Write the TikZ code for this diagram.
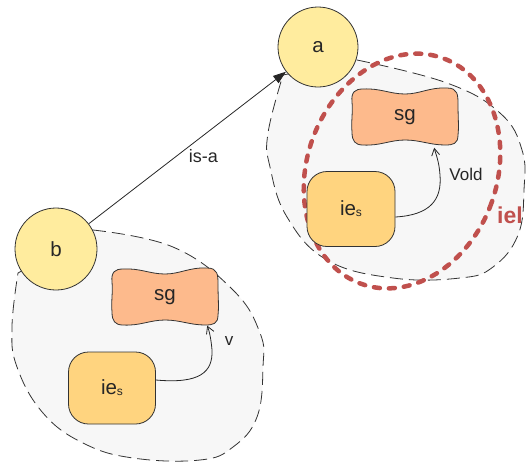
\documentclass[tikz,border=0pt]{standalone}
\usepackage{fontspec}
\setmainfont{Liberation Sans}
\usetikzlibrary{arrows.meta,calc}
\definecolor{circfill}{HTML}{FFEC9E}
\definecolor{iefill}{HTML}{FFD47F}
\definecolor{sgfill}{HTML}{FDBA8C}
\definecolor{blobfill}{HTML}{F7F7F7}
\definecolor{ielred}{HTML}{C0504D}
\definecolor{edgegray}{HTML}{333333}
\tikzset{
  lbl/.style={font=\fontsize{20.5}{22}\selectfont, text=black!85},
  circ/.style={circle, draw=edgegray, line width=0.8pt, fill=circfill, inner sep=0pt, lbl},
  iebox/.style={rectangle, rounded corners=20pt, draw=edgegray, line width=0.8pt, fill=iefill, lbl},
  sgshape/.style={draw=edgegray, line width=0.8pt, fill=sgfill},
  sgtext/.style={lbl, minimum width=106pt, minimum height=57pt},
  blob/.style={draw=black!80, line width=0.8pt, dash pattern=on 13pt off 6pt, fill=blobfill},
  redring/.style={draw=ielred, line width=4.5pt, line cap=round, dash pattern=on 6pt off 9pt},
  conn/.style={draw=black!85, line width=0.8pt, -{Straight Barb[length=7pt,width=8pt]}},
  isa/.style={draw=black!85, line width=0.8pt, -{Triangle[length=13pt,width=9pt]}},
  small lbl/.style={font=\fontsize{17}{19}\selectfont, text=black!85},
}
\newcommand{\sgpath}{(-42,-28) .. controls (-25,-29) and (-15,-23) .. (0,-23)
  .. controls (15,-23) and (25,-30) .. (42,-29)
  .. controls (53,-29) and (53,-22) .. (53,-12)
  .. controls (53,0) and (54,10) .. (53,18)
  .. controls (53,27) and (48,28) .. (40,28)
  .. controls (25,28) and (15,23) .. (0,23)
  .. controls (-15,23) and (-25,29) .. (-42,28)
  .. controls (-50,28) and (-53,24) .. (-53,15)
  .. controls (-54,5) and (-52,-5) .. (-53,-15)
  .. controls (-54,-25) and (-50,-28) .. (-42,-28) -- cycle}
\begin{document}
\begin{tikzpicture}[x=1pt,y=-1pt]
\useasboundingbox (0,0) rectangle (526,464);
% left blob
\path[blob] plot[smooth, tension=0.7] coordinates {(93,230) (173,247) (233,290) (260,333) (263,367) (257,417) (233,447) (200,460) (133,458) (83,443) (43,413) (17,367) (12,327) (18,273)} -- cycle;
% right blob
\path[blob] plot[smooth, tension=0.7] coordinates {(357,60) (447,83) (500,113) (522,150) (524,190) (518,235) (493,267) (460,278) (393,278) (327,260) (287,217) (270,167) (268,133) (283,75)} -- cycle;
% red ring
\path[redring, rotate around={-20:(402,171)}] (402,171) ellipse [x radius=95, y radius=120];
% circles
\node[circ, minimum size=80pt] (a) at (318,47) {a};
\node[circ, minimum size=82pt] (b) at (56,249) {b};
% sg shapes
\path[sgshape, shift={(165,297)}] \sgpath;
\node[sgtext] (sgL) at (165,297) {sg};
\path[sgshape, shift={(405,117)}] \sgpath;
\node[sgtext] (sgR) at (405,117) {sg};
% ie boxes
\node[iebox, minimum width=87pt, minimum height=72pt] (ieL) at (112,388) {ie\raisebox{-1pt}{\fontsize{12}{13}\selectfont s}};
\node[iebox, minimum width=88pt, minimum height=75pt] (ieR) at (351,209) {ie\raisebox{-1pt}{\fontsize{12}{13}\selectfont s}};
% connectors
\draw[isa] (b) -- (a) node[pos=0.5, xshift=16pt, yshift=-8pt, lbl, font=\fontsize{18}{20}\selectfont] {is-a};
\draw[conn] ($(ieL.east)+(0,-8)$) .. controls (200,384) and (213,372) .. (212,350) .. controls (211,338) and (209,330) .. ($(sgL.south east)+(-11,0)$);
\node[small lbl] (vL) at (229,341) {v};
\draw[conn] ($(ieR.east)+(0,8)$) .. controls (430,215) and (442,200) .. (440,175) .. controls (439,160) and (435,152) .. ($(sgR.south east)+(-24,2)$);
\node[small lbl] (vR) at (466,174) {Vold};
\node[font=\bfseries\fontsize{23}{25}\selectfont, text=ielred, anchor=west, inner sep=0pt] (iel) at (497,215) {iel};
\end{tikzpicture}
\end{document}
